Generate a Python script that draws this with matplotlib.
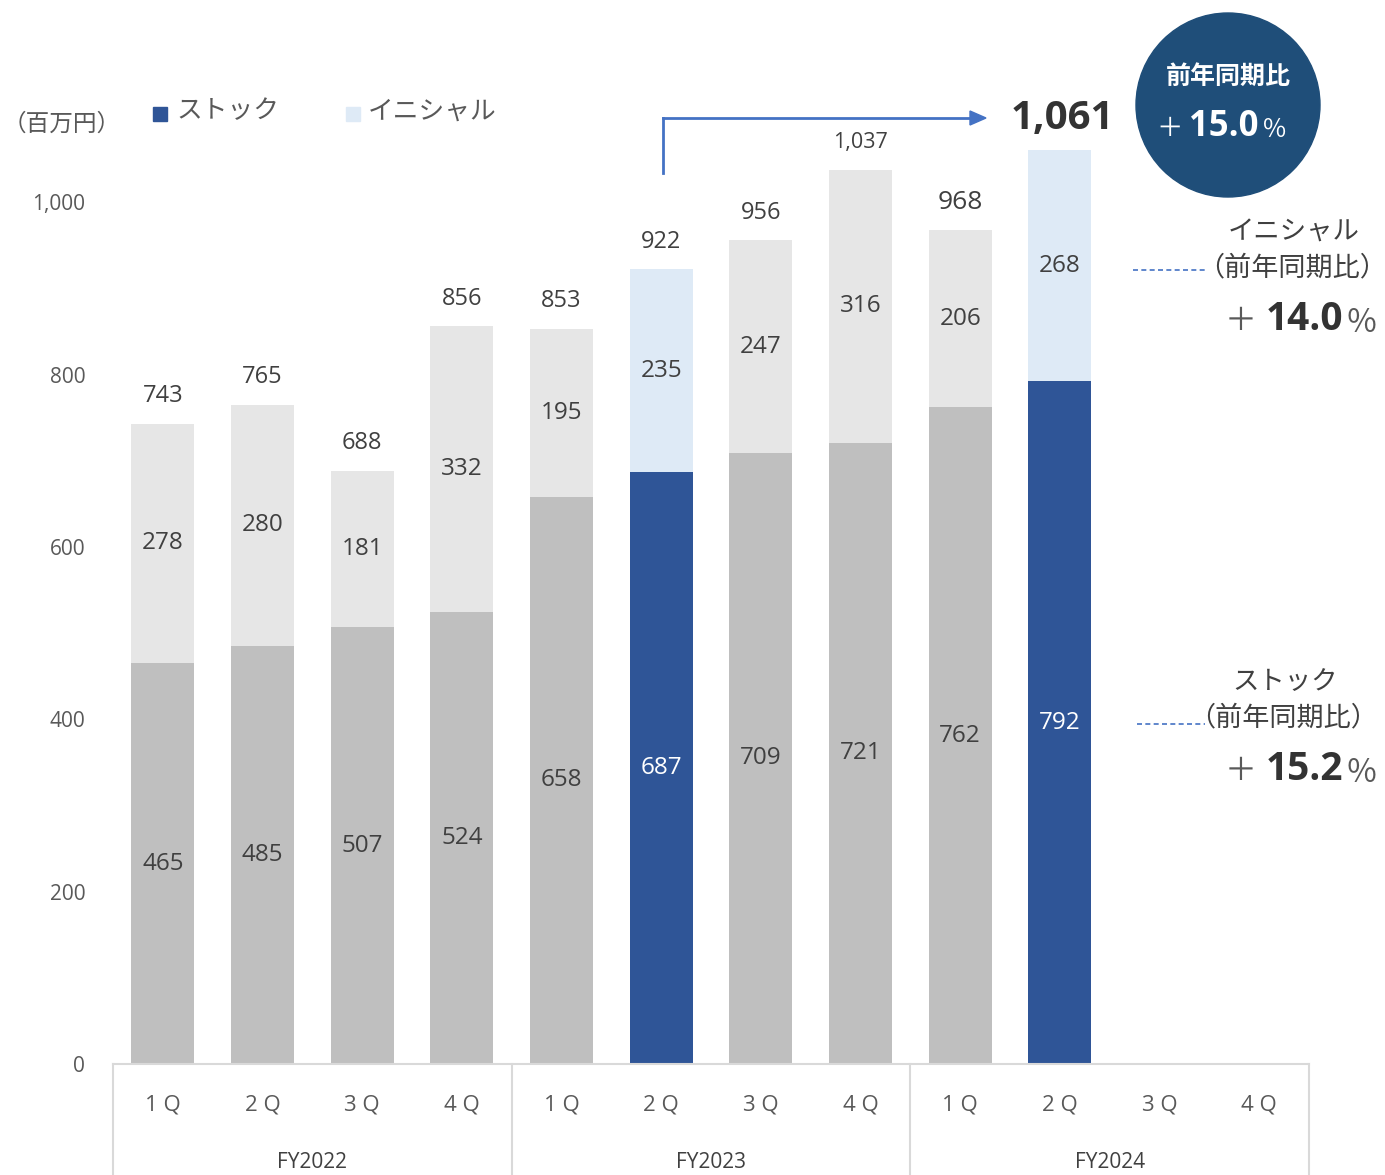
import numpy as np
import matplotlib
matplotlib.use("Agg")
import matplotlib.pyplot as plt
from matplotlib.patches import Ellipse

plt.rcParams['font.family'] = ['Open Sans', 'Noto Sans CJK JP', 'DejaVu Sans']

# data
quarters = ['1Q', '2Q', '3Q', '4Q'] * 3
years = ['FY2022', 'FY2023', 'FY2024']
stock = [465, 485, 507, 524, 658, 687, 709, 721, 762, 792]
initial = [278, 280, 181, 332, 195, 235, 247, 316, 206, 268]
totals = [743, 765, 688, 856, 853, 922, 956, 1037, 968, 1061]
highlight = [5, 9]
yoy_total = '15.0'
yoy_initial = '14.0'
yoy_stock = '15.2'

W, H = 1385, 1175
fig = plt.figure(figsize=(W / 100, H / 100), dpi=100)

def fx(x):
    return x / W

def fy(y):
    return 1 - y / H

ax = fig.add_axes([fx(113), fy(1064), 1196 / W, 948 / H])
ax.set_xlim(-0.5, 11.5)
ax.set_ylim(0, 1100)

x = np.arange(len(stock))
c_stock = ['#2F5597' if i in highlight else '#BFBFBF' for i in x]
c_init = ['#DEEAF6' if i in highlight else '#E6E6E6' for i in x]
ax.bar(x, stock, width=0.63, color=c_stock)
ax.bar(x, initial, width=0.63, bottom=stock, color=c_init)

txt = '#404040'
total_fs = [17, 17, 17, 17, 17, 17, 17, 15.5, 19, 17]
for i in x:
    ax.text(i, stock[i] / 2, str(stock[i]), ha='center', va='center', fontsize=17.5,
            color='white' if i in highlight else txt)
    ax.text(i, stock[i] + initial[i] / 2, str(initial[i]), ha='center', va='center',
            fontsize=17.5, color=txt)
    if i == 9:
        continue
    ax.text(i, totals[i] + 32, f'{totals[i]:,}', ha='center', va='center',
            fontsize=total_fs[i], color=txt)

# big total for latest quarter
fig.text(fx(1062), fy(118), f'{totals[9]:,}', ha='center', va='center', fontsize=29,
         fontweight='bold', color='#333333')

for s in ['top', 'right', 'left']:
    ax.spines[s].set_visible(False)
ax.spines['bottom'].set_color('#D9D9D9')
ax.spines['bottom'].set_linewidth(1.5)
ax.set_yticks([0, 200, 400, 600, 800, 1000])
ax.set_yticklabels(['0', '200', '400', '600', '800', '1,000'], fontsize=15, color='#595959')
ax.tick_params(axis='y', length=0, pad=20)
ax.set_xticks([])

# category axis
tr = ax.get_xaxis_transform()
for i, q in enumerate(quarters):
    ax.text(i, -0.043, q[0] + ' ' + q[1], transform=tr, ha='center', va='center',
            fontsize=16, color='#595959')
for j, yname in enumerate(years):
    ax.text(4 * j + 1.5, -0.104, yname, transform=tr, ha='center', va='center',
            fontsize=15, color='#404040')
for b in [-0.5, 3.5, 7.5, 11.5]:
    ax.plot([b, b], [0, -0.14], transform=tr, color='#D9D9D9', lw=1.5, clip_on=False)

# unit and legend
fig.text(fx(62), fy(125), '（百万円）', ha='center', va='center', fontsize=17, color='#595959')
fig.patches.append(plt.Rectangle((fx(153), fy(121)), 14 / W, 14 / H, color='#2F5597',
                                 transform=fig.transFigure))
fig.text(fx(176), fy(112), 'ストック', ha='left', va='center', fontsize=18.5, color='#595959')
fig.patches.append(plt.Rectangle((fx(346), fy(121)), 14 / W, 14 / H, color='#DEEAF6',
                                 transform=fig.transFigure))
fig.text(fx(368), fy(112), 'イニシャル', ha='left', va='center', fontsize=18.5, color='#595959')

# arrow from FY2023 2Q to FY2024 2Q
arrow_c = '#4472C4'
fig.add_artist(plt.Line2D([fx(663), fx(663)], [fy(173), fy(118)], color=arrow_c, lw=2))
fig.add_artist(plt.Line2D([fx(663), fx(975)], [fy(118), fy(118)], color=arrow_c, lw=2))
fig.patches.append(plt.Polygon([[fx(986), fy(118)], [fx(970), fy(111)], [fx(970), fy(125)]],
                               closed=True, color=arrow_c, transform=fig.transFigure))

# circle badge
fig.patches.append(Ellipse((fx(1228), fy(105)), 184 / W, 184 / H, color='#1F4E79',
                           transform=fig.transFigure))
fig.text(fx(1228), fy(77), '前年同期比', ha='center', va='center', fontsize=18,
         fontweight='bold', color='white')
fig.text(fx(1183), fy(129), '＋', ha='right', va='center', fontsize=19, color='white')
fig.text(fx(1224), fy(127), yoy_total, ha='center', va='center', fontsize=25,
         fontweight='bold', color='white')
fig.text(fx(1262), fy(130), '％', ha='left', va='center', fontsize=18, color='white')

# side annotations
def side_note(name, ytop, pct, cx, x_line0, yline):
    fig.text(fx(cx), fy(ytop), name, ha='center', va='center', fontsize=19, color='#404040')
    fig.text(fx(cx - 2), fy(ytop + 35), '（前年同期比）', ha='center', va='center',
             fontsize=19.5, color='#404040')
    fig.add_artist(plt.Line2D([fx(x_line0), fx(1205)], [fy(yline), fy(yline)],
                              color=arrow_c, lw=1.2, ls=(0, (3, 2))))
    fig.text(fx(1257), fy(ytop + 89), '＋', ha='right', va='center', fontsize=23,
             color='#595959')
    fig.text(fx(1304), fy(ytop + 87), pct, ha='center', va='center', fontsize=28,
             fontweight='bold', color='#333333')
    fig.text(fx(1346), fy(ytop + 90), '％', ha='left', va='center', fontsize=23,
             color='#595959')

side_note('イニシャル', 233, yoy_initial, 1294, 1133, 270)
side_note('ストック', 683, yoy_stock, 1285, 1137, 724)

fig.savefig('out.png', dpi=100)
